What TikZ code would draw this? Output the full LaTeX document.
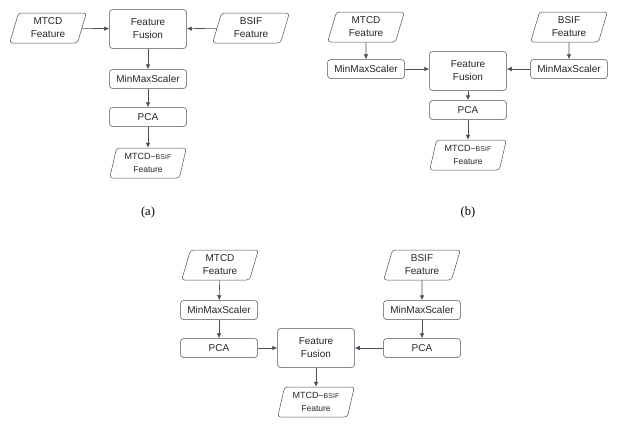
\documentclass[tikz,border=0pt]{standalone}
\usepackage{fontspec}
\setmainfont{Liberation Sans}
\newfontfamily\capfont{Liberation Serif}
\usepackage{tikz}
\usetikzlibrary{arrows.meta, shapes.geometric}
\definecolor{linegray}{HTML}{4A4F59}
\definecolor{txtgray}{HTML}{262626}
\newcommand{\outtext}{{\fontsize{9}{11}\selectfont MTCD–}{\fontsize{7}{11}\selectfont BSIF}\\{\fontsize{8.5}{11}\selectfont Feature}}
\tikzset{
	x=1pt, y=-1pt, % coordinates in pixels of the page
	proc/.style={draw=linegray, line width=0.5pt, rounded corners=3pt, minimum width=77pt, minimum height=19pt, inner sep=1pt, text=txtgray, font=\fontsize{10}{13}\selectfont, align=center}, % small process box
	fuse/.style={proc, minimum height=39pt}, % the fusion box
	data/.style={trapezium, trapezium left angle=76, trapezium right angle=104, trapezium stretches=true, draw=linegray, line width=0.5pt, rounded corners=3pt, minimum width=77pt, minimum height=30pt, inner sep=1pt, text=txtgray, font=\fontsize{10}{13}\selectfont, align=center}, % input / output data
	flow/.style={draw=linegray, line width=0.6pt, -{Latex[length=5pt,width=4.5pt]}}, % arrows
	caption/.style={font=\capfont\fontsize{12.5}{14}\selectfont}
}

\begin{document}
\begin{tikzpicture}
		\useasboundingbox (0,0) rectangle (624,432);

		% (a)
		\node[data](amtcd) at (48,28){MTCD\\Feature};
		\node[fuse](afus) at (148,29){Feature\\Fusion};
		\node[data](absif) at (251,28){BSIF\\Feature};
		\node[proc](ascale) at (148,79){MinMaxScaler};
		\node[proc](apca) at (148,117){PCA};
		\node[data](aout) at (148,163){\outtext};
		\node[caption](acap) at (148,212){(a)};

		\draw[flow] (amtcd) -- (afus);
		\draw[flow] (absif) -- (afus);
		\foreach \a/\b in {afus/ascale, ascale/apca, apca/aout}
			\draw[flow] (\a) -- (\b);

		% (b)
		\node[data](bmtcd) at (366,27){MTCD\\Feature};
		\node[proc](bscl) at (366,69){MinMaxScaler};
		\node[fuse](bfus) at (468,71){Feature\\Fusion};
		\node[proc](bscr) at (569,69){MinMaxScaler};
		\node[data](bbsif) at (569,27){BSIF\\Feature};
		\node[proc](bpca) at (468,110){PCA};
		\node[data](bout) at (468,155){\outtext};
		\node[caption](bcap) at (468,212){(b)};

		\foreach \a/\b in {bmtcd/bscl, bbsif/bscr, bfus/bpca, bpca/bout}
			\draw[flow] (\a) -- (\b);
		\draw[flow] (bscl.east) -- (bscl.east -| bfus.west);
		\draw[flow] (bscr.west) -- (bscr.west -| bfus.east);

		% (c)
		\node[data](cmtcd) at (220,265){MTCD\\Feature};
		\node[proc](cscl) at (219,310){MinMaxScaler};
		\node[proc](cpcl) at (219,348){PCA};
		\node[fuse](cfus) at (316,348){Feature\\Fusion};
		\node[proc](cpcr) at (422,348){PCA};
		\node[proc](cscr) at (422,310){MinMaxScaler};
		\node[data](cbsif) at (422,265){BSIF\\Feature};
		\node[data](cout) at (316,402){\outtext};

		\foreach \a/\b in {cmtcd/cscl, cscl/cpcl, cbsif/cscr, cscr/cpcr, cpcl/cfus, cpcr/cfus, cfus/cout}
			\draw[flow] (\a) -- (\b);

	\end{tikzpicture}
\end{document}
